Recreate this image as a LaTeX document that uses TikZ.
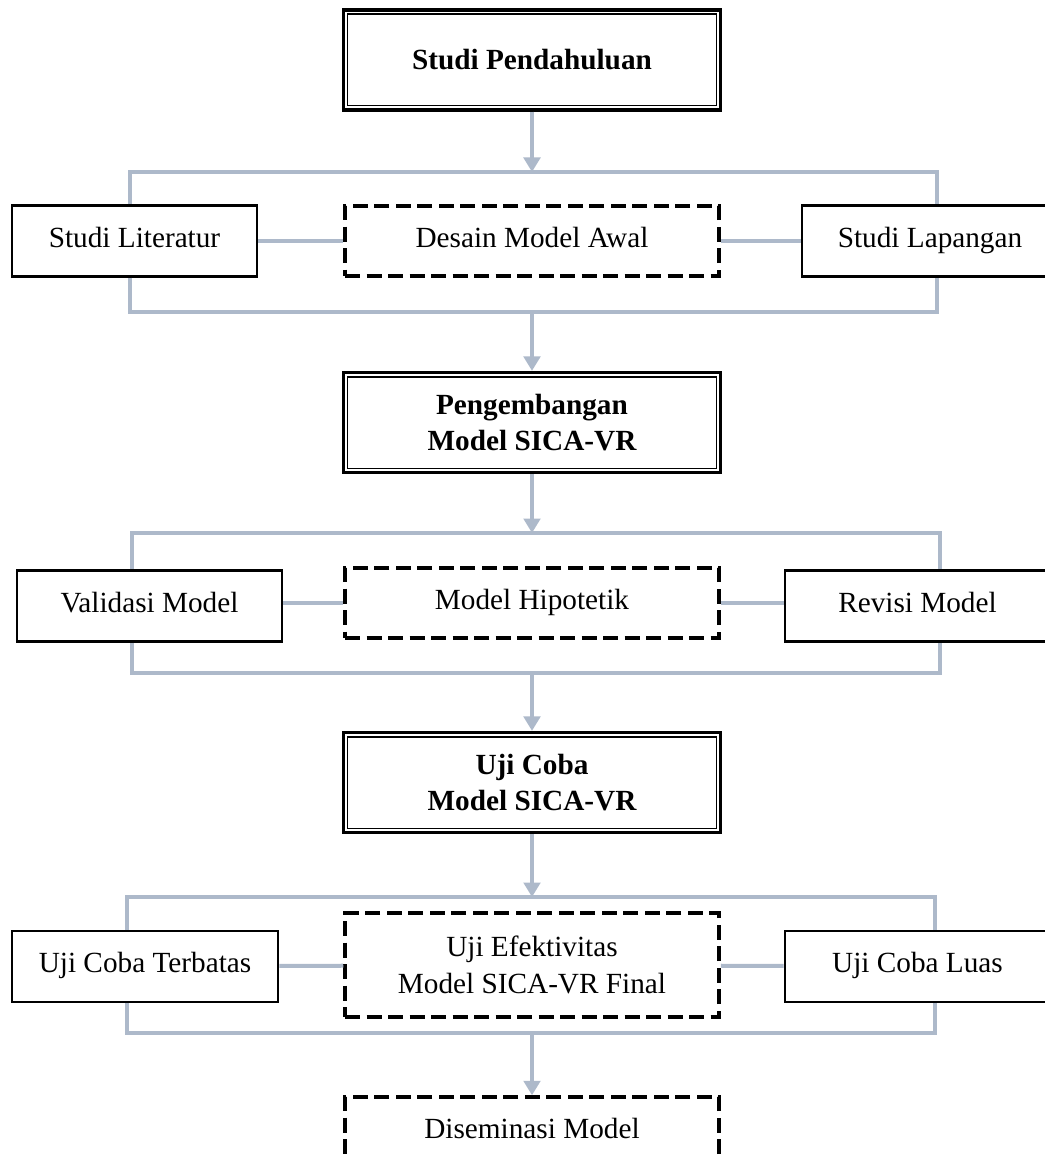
\documentclass[tikz,border=0pt]{standalone}
\usepackage{fontspec}
\setmainfont{Liberation Serif}
\usetikzlibrary{arrows.meta}
\definecolor{linkgray}{RGB}{173,185,202}

\begin{document}
\begin{tikzpicture}[x=0.4pt, y=-0.4pt,
    font=\fontsize{11.7}{14.5}\selectfont,
    mainbox/.style={draw, line width=1.3pt, minimum width=151pt, minimum height=40pt,
      align=center, font=\fontsize{11.7}{14.5}\selectfont\bfseries,
      path picture={\draw[line width=0.6pt]
        ([shift={(1.7pt,-1.7pt)}]path picture bounding box.north west) rectangle
        ([shift={(-1.7pt,1.7pt)}]path picture bounding box.south east);}},
    sidebox/.style={draw, line width=1.1pt, minimum height=28.4pt},
    dashbox/.style={draw, line width=1.4pt, dash pattern=on 6pt off 2.6pt,
      minimum width=149.6pt, minimum height=28pt, align=center},
    oneline/.style={text height=1.55ex, text depth=0.45ex},
    link/.style={linkgray, line width=1.6pt},
    flow/.style={link, ->, >={Triangle[width=6.6pt,length=5.8pt]}}]

    \clip (0,0) rectangle (1045,1159);

    % first stage
    \node[mainbox] (pend) at (532,60) {Studi Pendahuluan};
    \coordinate (top1) at (532,172);
    \coordinate (bot1) at (532,312);
    \coordinate (left1) at (130,172);
    \coordinate (right1) at (937,172);
    \node[sidebox, oneline, minimum width=98pt] (lit) at (134.5,241) {Studi Literatur};
    \node[dashbox, oneline] (desain) at (532,241) {Desain Model Awal};
    \node[sidebox, oneline, minimum width=102.4pt] (lap) at (930,241) {Studi Lapangan};

    \draw[flow] (pend) -- (top1);
    \draw[link] (lit.north -| left1) -- (left1) -- (right1) -- (lap.north -| right1);
    \draw[link] (lit.south -| left1) -- (left1 |- bot1) -- (right1 |- bot1) -- (lap.south -| right1);
    \draw[link] (lit) -- (desain);
    \draw[link] (desain) -- (lap);

    % second stage
    \node[mainbox] (kembang) at (532,422.5) {Pengembangan\\Model SICA-VR};
    \coordinate (top2) at (532,533);
    \coordinate (bot2) at (532,673);
    \coordinate (left2) at (132,533);
    \coordinate (right2) at (940,533);
    \node[sidebox, oneline, minimum width=106pt] (valid) at (149.5,606) {Validasi Model};
    \node[dashbox, oneline] (hipo) at (532,603) {Model Hipotetik};
    \node[sidebox, oneline, minimum width=106pt] (revisi) at (917.5,606) {Revisi Model};

    \draw[flow] (bot1) -- (kembang);
    \draw[flow] (kembang) -- (top2);
    \draw[link] (valid.north -| left2) -- (left2) -- (right2) -- (revisi.north -| right2);
    \draw[link] (valid.south -| left2) -- (left2 |- bot2) -- (right2 |- bot2) -- (revisi.south -| right2);
    \draw[link] (valid.east |- hipo) -- (hipo);
    \draw[link] (hipo) -- (revisi.west |- hipo);

    % third stage
    \node[mainbox] (ujicoba) at (532,782.5) {Uji Coba\\Model SICA-VR};
    \coordinate (top3) at (532,897);
    \coordinate (bot3) at (532,1033);
    \coordinate (left3) at (127,897);
    \coordinate (right3) at (935,897);
    \node[sidebox, oneline, minimum width=106.4pt] (terbatas) at (145,966.5) {Uji Coba Terbatas};
    \node[dashbox, minimum height=41.6pt] (efektif) at (532,965) {Uji Efektivitas\\Model SICA-VR Final};
    \node[sidebox, oneline, minimum width=106pt] (luas) at (917.5,966.5) {Uji Coba Luas};

    \draw[flow] (bot2) -- (ujicoba);
    \draw[flow] (ujicoba) -- (top3);
    \draw[link] (terbatas.north -| left3) -- (left3) -- (right3) -- (luas.north -| right3);
    \draw[link] (terbatas.south -| left3) -- (left3 |- bot3) -- (right3 |- bot3) -- (luas.south -| right3);
    \draw[link] (terbatas) -- (efektif);
    \draw[link] (efektif) -- (luas);

    % last step
    \node[dashbox, oneline] (disem) at (532,1132) {Diseminasi Model};
    \draw[flow] (bot3) -- (disem);
\end{tikzpicture}
\end{document}
